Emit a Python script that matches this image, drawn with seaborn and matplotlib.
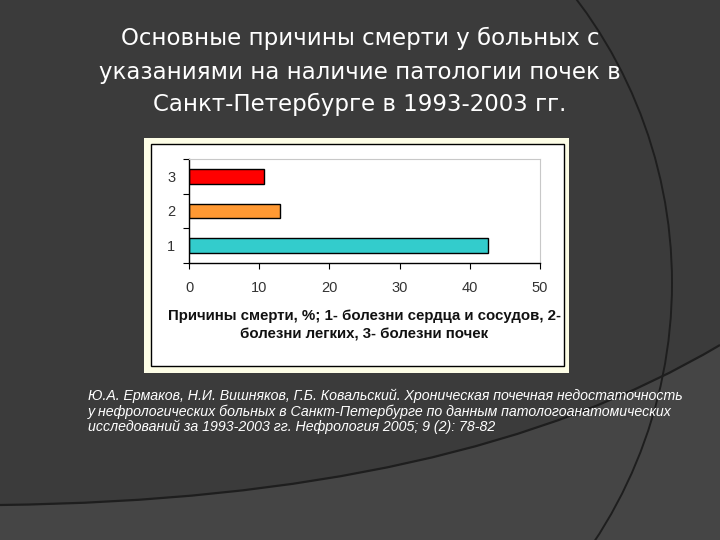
import matplotlib
matplotlib.use("Agg")
import matplotlib.pyplot as plt
import matplotlib.patches as mpatches
from matplotlib.path import Path
import seaborn as sns
import pandas as pd

# data
categories = ["3", "2", "1"]
values = [10.7, 13.0, 42.6]
bar_colors = ["#ff0000", "#ff9933", "#33cccc"]
x_ticks = [0, 10, 20, 30, 40, 50]

title_lines = [
    "Основные причины смерти у больных с",
    "указаниями на наличие патологии почек в",
    "Санкт-Петербурге в 1993-2003 гг.",
]
xlabel_text = ("Причины смерти, %; 1- болезни сердца и сосудов, 2-\n"
               "болезни легких, 3- болезни почек")
source_text = ("Ю.А. Ермаков, Н.И. Вишняков, Г.Б. Ковальский. Хроническая почечная недостаточность\n"
               "у нефрологических больных в Санкт-Петербурге по данным патологоанатомических\n"
               "исследований за 1993-2003 гг. Нефрология 2005; 9 (2): 78-82")

df = pd.DataFrame({"cause": categories, "pct": values})

sns.set_style("white")
plt.rcParams["font.family"] = ["Liberation Sans", "DejaVu Sans"]

fig = plt.figure(figsize=(7.2, 5.4), dpi=100)
fig.patch.set_facecolor("#3b3b3b")

# slide background in pixel units
bg = fig.add_axes([0, 0, 1, 1], zorder=-5)
bg.set_xlim(0, 720)
bg.set_ylim(540, 0)
bg.axis("off")
bg.set_facecolor("#3b3b3b")

low = Path([(0, 505), (460, 500), (720, 345), (720, 540), (0, 540), (0, 505)],
           [Path.MOVETO, Path.CURVE3, Path.CURVE3, Path.LINETO, Path.LINETO, Path.CLOSEPOLY])
bg.add_patch(mpatches.PathPatch(low, facecolor="#454545", edgecolor="none"))
edge = Path([(0, 505), (460, 500), (720, 345)], [Path.MOVETO, Path.CURVE3, Path.CURVE3])
bg.add_patch(mpatches.PathPatch(edge, facecolor="none", edgecolor="#1e1e1e", lw=1.6))
bg.add_patch(mpatches.Circle((203, 283), 469, facecolor="none", edgecolor="#1e1e1e", lw=1.4))

# chart panel
bg.add_patch(mpatches.Rectangle((144, 138), 425, 235, facecolor="#fdfde6", edgecolor="none"))
bg.add_patch(mpatches.Rectangle((151, 144), 413, 222, facecolor="white", edgecolor="black", lw=1))

for i, line in enumerate(title_lines):
    fig.text(0.5, 1 - [38, 73, 104][i] / 540, line, ha="center", va="center",
             color="white", fontsize=16.5, family=["DejaVu Sans"])

fig.text(88 / 720, 1 - 389 / 540, source_text, ha="left", va="top", color="white",
         fontsize=10.2, style="italic", linespacing=1.08)

# bar chart
ax = fig.add_axes([189 / 720, 1 - 263 / 540, 351 / 720, 104 / 540])
sns.barplot(data=df, x="pct", y="cause", order=categories, hue="cause",
            palette=dict(zip(categories, bar_colors)), legend=False, saturation=1,
            orient="h", width=0.42, edgecolor="black", linewidth=1, ax=ax)
ax.set_facecolor("white")
ax.set_xlim(0, 50)
ax.set_ylim(2.5, -0.5)
ax.set_xticks(x_ticks)
ax.set_xticklabels([str(t) for t in x_ticks])
ax.set_yticks([-0.5, 0.5, 1.5, 2.5], minor=True)
ax.tick_params(axis="y", which="major", length=0, pad=10, labelsize=10.5, labelcolor="#333333")
ax.tick_params(axis="y", which="minor", length=4, width=0.8, color="black", direction="out", left=True)
ax.tick_params(axis="x", length=4, width=0.8, color="black", direction="out", bottom=True,
               pad=9, labelsize=10.5, labelcolor="#333333")
for s in ["left", "bottom"]:
    ax.spines[s].set_color("black")
    ax.spines[s].set_linewidth(1)
for s in ["top", "right"]:
    ax.spines[s].set_visible(True)
    ax.spines[s].set_color("#c8c8c8")
    ax.spines[s].set_linewidth(0.8)
ax.set_ylabel("")
ax.set_xlabel(xlabel_text, fontsize=10.8, fontweight="bold", linespacing=1.45, labelpad=10,
              color="#111111")

fig.savefig("out.png", dpi=100, facecolor=fig.get_facecolor())
